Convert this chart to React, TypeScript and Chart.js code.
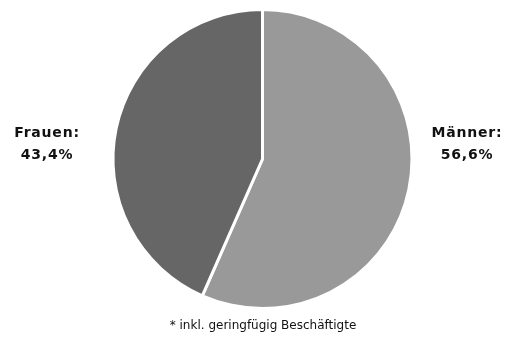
import React, { useEffect, useRef } from "react";
import { Chart, registerables } from "chart.js";

Chart.register(...registerables);

const categories = ["Männer", "Frauen"];
const values = [56.6, 43.4];
const valueLabels = ["56,6%", "43,4%"];
const colors = ["#999999", "#666666"];
const footnote = "* inkl. geringfügig Beschäftigte";

const labelPlugin = {
  id: "sideLabels",
  afterDraw(chart: any) {
    const { ctx, chartArea } = chart;
    const cy = (chartArea.top + chartArea.bottom) / 2;
    ctx.save();
    ctx.fillStyle = "#111111";
    ctx.textAlign = "center";
    ctx.textBaseline = "middle";
    ctx.font = "bold 14px 'DejaVu Sans'";
    (ctx as any).letterSpacing = "0.8px";
    const rightX = 467;
    const leftX = 47;
    ctx.fillText(categories[0] + ":", rightX, cy - 26);
    ctx.fillText(valueLabels[0], rightX, cy - 4);
    ctx.fillText(categories[1] + ":", leftX, cy - 26);
    ctx.fillText(valueLabels[1], leftX, cy - 4);
    (ctx as any).letterSpacing = "0px";
    ctx.font = "12px 'DejaVu Sans'";
    ctx.fillText(footnote, 263, 326);
    ctx.restore();
  },
};

export default function App() {
  const ref = useRef<HTMLCanvasElement>(null);
  useEffect(() => {
    document.body.style.margin = "0";
    const chart = new Chart(ref.current!, {
      type: "pie",
      data: {
        labels: categories,
        datasets: [
          {
            data: values,
            backgroundColor: colors,
            borderColor: "#ffffff",
            borderWidth: 3,
          },
        ],
      },
      options: {
        animation: false,
        responsive: false,
        layout: { padding: { top: 8, bottom: 32, left: 18, right: 0 } },
        plugins: {
          legend: { display: false },
          tooltip: { enabled: false },
        },
      },
      plugins: [labelPlugin],
    });
    return () => chart.destroy();
  }, []);
  return <canvas ref={ref} width={507} height={342} style={{ display: "block" }} />;
}
